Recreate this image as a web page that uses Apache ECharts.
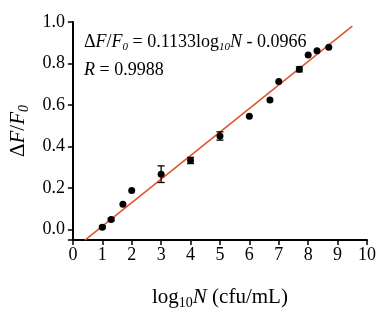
<!DOCTYPE html>
<html>
<head>
<meta charset="utf-8">
<script src="https://cdn.jsdelivr.net/npm/echarts@6/dist/echarts.min.js"></script>
<style>
  html, body { margin: 0; padding: 0; background: #fff; }
  #chart { width: 387px; height: 315px; }
</style>
</head>
<body>
<div id="chart"></div>
<script>
// measured points
var logN = [1, 1.3, 1.7, 2, 3, 4, 5, 6, 6.7, 7, 7.7, 8, 8.3, 8.7];
var ratio = [0.012, 0.049, 0.122, 0.189, 0.267, 0.333, 0.451, 0.546, 0.624, 0.714, 0.772, 0.841, 0.861, 0.878];
var errs = [0.006, 0.006, 0, 0, 0.04, 0.015, 0.02, 0, 0, 0, 0.012, 0, 0, 0];
// fit line
var slope = 0.1133;
var intercept = -0.0966;
var fitX = [0.41, 9.5];

var font = "'Liberation Serif', 'Times New Roman', serif";

var pts = logN.map(function (x, i) { return [x, ratio[i]]; });
var bars = logN.map(function (x, i) { return [x, ratio[i] - errs[i], ratio[i] + errs[i]]; })
  .filter(function (d) { return d[2] > d[1]; });
var fit = fitX.map(function (x) { return [x, slope * x + intercept]; });

var chart = echarts.init(document.getElementById('chart'));
chart.setOption({
  animation: false,
  textStyle: { fontFamily: font, color: '#000' },
  grid: { left: 72, right: 20, top: 22, bottom: 64 },
  xAxis: {
    type: 'value', min: 0, max: 10, interval: 1,
    axisLine: { onZero: false, lineStyle: { color: '#000', width: 2 } },
    axisTick: { show: true, length: 5, lineStyle: { color: '#000', width: 1.5 } },
    axisLabel: { color: '#000', fontFamily: font, fontSize: 18, margin: 6 },
    splitLine: { show: false },
    name: '{n|log}{s|10}{i|N}{n| (cfu/mL)}',
    nameLocation: 'middle', nameGap: 44,
    nameTextStyle: {
      rich: {
        n: { fontFamily: font, fontSize: 21, color: '#000' },
        i: { fontFamily: font, fontSize: 21, color: '#000', fontStyle: 'italic' },
        s: { fontFamily: font, fontSize: 14, color: '#000', padding: [12, 0, 0, 0] }
      }
    }
  },
  yAxis: {
    type: 'value', min: -0.05, max: 1.0,
    axisLine: { lineStyle: { color: '#000', width: 2 } },
    axisTick: { show: true, length: 5, lineStyle: { color: '#000', width: 1.5 } },
    axisLabel: {
      color: '#000', fontFamily: font, fontSize: 18, margin: 8,
      formatter: function (v) {
        var r = Math.round(v * 10) / 10;
        if (Math.abs(v - r) > 1e-6 || r < 0) return '';
        return r.toFixed(1);
      }
    },
    splitLine: { show: false },
    name: '{n|Δ}{i|F}{n|/}{i|F}{s|0}',
    nameLocation: 'middle', nameGap: 40, nameRotate: 90,
    nameTextStyle: {
      rich: {
        n: { fontFamily: font, fontSize: 21, color: '#000' },
        i: { fontFamily: font, fontSize: 21, color: '#000', fontStyle: 'italic' },
        s: { fontFamily: font, fontSize: 14, color: '#000', fontStyle: 'italic', padding: [12, 0, 0, 0] }
      }
    }
  },
  graphic: [
    {
      type: 'text', left: 84, top: 33,
      style: {
        text: '{n|Δ}{i|F}{n|/}{i|F}{s|0}{n| = 0.1133log}{s|10}{i|N}{n| - 0.0966}',
        rich: {
          n: { fontFamily: font, fontSize: 18, fill: '#000' },
          i: { fontFamily: font, fontSize: 18, fill: '#000', fontStyle: 'italic' },
          s: { fontFamily: font, fontSize: 11, fill: '#000', fontStyle: 'italic', padding: [10, 0, 0, 0] }
        }
      }
    },
    {
      type: 'text', left: 84, top: 61,
      style: {
        text: '{i|R}{n| = 0.9988}',
        rich: {
          n: { fontFamily: font, fontSize: 18, fill: '#000' },
          i: { fontFamily: font, fontSize: 18, fill: '#000', fontStyle: 'italic' }
        }
      }
    }
  ],
  series: [
    {
      type: 'line', data: fit, symbol: 'none', z: 1,
      lineStyle: { color: '#e4552e', width: 1.6 }
    },
    {
      type: 'custom', z: 3,
      renderItem: function (params, api) {
        var x = api.value(0);
        var lo = api.coord([x, api.value(1)]);
        var hi = api.coord([x, api.value(2)]);
        var w = 3.5;
        var st = { stroke: '#000', lineWidth: 1.3 };
        return {
          type: 'group',
          children: [
            { type: 'line', shape: { x1: lo[0], y1: lo[1], x2: hi[0], y2: hi[1] }, style: st },
            { type: 'line', shape: { x1: lo[0] - w, y1: lo[1], x2: lo[0] + w, y2: lo[1] }, style: st },
            { type: 'line', shape: { x1: hi[0] - w, y1: hi[1], x2: hi[0] + w, y2: hi[1] }, style: st }
          ]
        };
      },
      data: bars
    },
    {
      type: 'scatter', data: pts, symbol: 'circle', symbolSize: 7, z: 4,
      itemStyle: { color: '#000', opacity: 1 }
    }
  ]
});
</script>
</body>
</html>
